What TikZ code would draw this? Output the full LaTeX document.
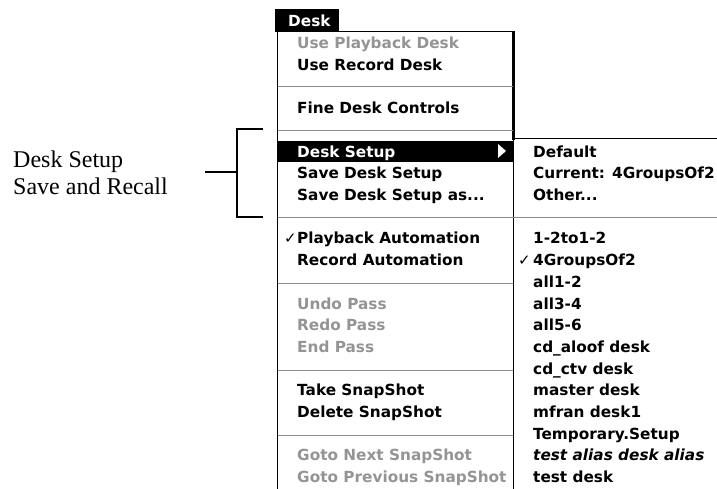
\documentclass[tikz,border=0pt]{standalone}
\usepackage{fontspec}
\setmainfont{Liberation Serif}
\newfontfamily\menufont{DejaVu Sans}
\definecolor{dimtext}{gray}{0.58}
\definecolor{rulegray}{gray}{0.55}
\begin{document}
\begin{tikzpicture}[x=1pt,y=-1pt]
\tikzstyle{item}=[anchor=west,inner sep=0pt,text height=11.2pt,text depth=0pt,font=\menufont\bfseries\fontsize{15.3}{18}\selectfont]
\tikzstyle{dim}=[item,text=dimtext]
\tikzstyle{tick}=[anchor=east,inner sep=0pt,text height=11.2pt,text depth=0pt,font=\menufont\fontsize{15}{18}\selectfont]
\tikzstyle{sep}=[rulegray,line width=1pt]
\tikzstyle{brace}=[line width=2pt]
\tikzstyle{note}=[anchor=base west,align=left,inner sep=0pt,font=\fontsize{24}{27}\selectfont]
\useasboundingbox (0,0) rectangle (717,489);
\clip (0,0) rectangle (717,489);
\draw[line width=1pt] (277,489) -- (277,32) -- (513,32);
\draw[line width=2.5pt] (513.5,31.5) -- (513.5,140);
\draw[line width=1pt] (513,489) -- (513,139) -- (717,139);
\fill (275,9) rectangle (339,32);
\fill (277,140.6) rectangle (513,162.3);
\fill[white] (498,144) -- (498,158) -- (506,151) -- cycle;
\draw[sep] (277.5,87) -- (513,87);
\draw[sep] (277.5,131) -- (513,131);
\draw[sep] (277.5,217) -- (717,217);
\draw[sep] (277.5,283) -- (513,283);
\draw[sep] (277.5,370) -- (513,370);
\draw[sep] (277.5,435) -- (513,435);
\node[item,text=white](ttl) at (288,21) {Desk};
\node[dim](m0) at (297,43.0) {Use Playback Desk};
\node[item](m1) at (297,64.7) {Use Record Desk};
\node[item](m3) at (297,108.1) {Fine Desk Controls};
\node[item,text=white](m5) at (297,151.5) {Desk Setup};
\node[item](m6) at (297,173.2) {Save Desk Setup};
\node[item](m7) at (297,194.9) {Save Desk Setup as...};
\node[item](m9) at (297,238.3) {Playback Automation};
\node[item](m10) at (297,260.0) {Record Automation};
\node[dim](m12) at (297,303.4) {Undo Pass};
\node[dim](m13) at (297,325.1) {Redo Pass};
\node[dim](m14) at (297,346.8) {End Pass};
\node[item](m16) at (297,390.2) {Take SnapShot};
\node[item](m17) at (297,411.9) {Delete SnapShot};
\node[dim](m19) at (297,455.3) {Goto Next SnapShot};
\node[dim](m20) at (297,477.0) {Goto Previous SnapShot};
\node[item](s5) at (533,151.5) {Default};
\node[item](s6) at (533,173.2) {Current: 4GroupsOf2};
\node[item](s7) at (533,194.9) {Other...};
\node[item](s9) at (533,238.3) {1-2to1-2};
\node[item](s10) at (533,260.0) {4GroupsOf2};
\node[item](s11) at (533,281.7) {all1-2};
\node[item](s12) at (533,303.4) {all3-4};
\node[item](s13) at (533,325.1) {all5-6};
\node[item](s14) at (533,346.8) {cd\_aloof desk};
\node[item](s15) at (533,368.5) {cd\_ctv desk};
\node[item](s16) at (533,390.2) {master desk};
\node[item](s17) at (533,411.9) {mfran desk1};
\node[item](s18) at (533,433.6) {Temporary.Setup};
\node[item,font=\menufont\bfseries\itshape\fontsize{15.3}{18}\selectfont](s19) at (533,455.3) {test alias desk alias};
\node[item](s20) at (533,477.0) {test desk};
\node[tick,xshift=0pt](c9) at (m9.west) {✓};
\node[tick,xshift=-2pt](c10) at (s10.west) {✓};
\node[note](lbl) at (13,195) {Desk Setup\\Save and Recall};
\coordinate (bt) at (263,129);
\coordinate (bb) at (263,217);
\coordinate (bm) at (237,172);
\coordinate (bs) at (205,172);
\draw[brace] (bt) -| (bm) |- (bb);
\draw[brace] (bs) -- (bm);
\end{tikzpicture}
\end{document}
